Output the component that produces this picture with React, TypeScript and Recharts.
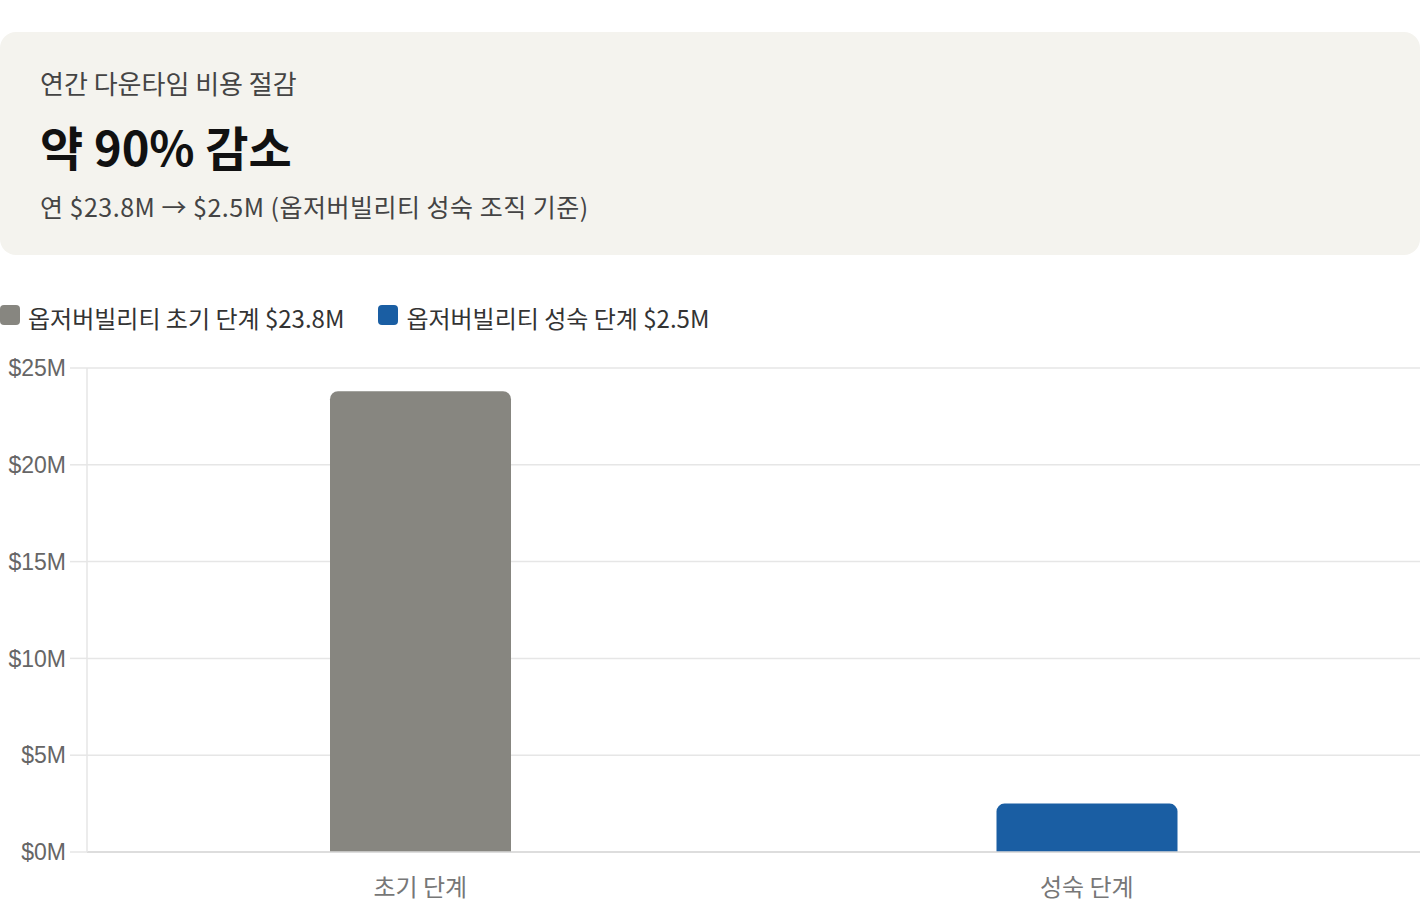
import React from "react";
import {
  BarChart,
  Bar,
  XAxis,
  YAxis,
  CartesianGrid,
  Legend,
  Cell,
} from "recharts";

// chart data
const categories = ["초기 단계", "성숙 단계"];
const costs = [23.8, 2.5];
const legendLabels = ["옵저버빌리티 초기 단계 $23.8M", "옵저버빌리티 성숙 단계 $2.5M"];
const barColors = ["#878680", "#1a5ea3"];
const yTicks = [0, 5, 10, 15, 20, 25];

const chartData = categories.map((name, i) => ({ name, cost: costs[i] }));

const KR_FONT = '"Noto Sans CJK KR", "Noto Sans", sans-serif';

const LegendRow = () => (
  <div style={{ display: "flex", alignItems: "center", height: 34, fontFamily: KR_FONT }}>
    {legendLabels.map((label, i) => (
      <div
        key={label}
        style={{ display: "flex", alignItems: "center", marginRight: i === 0 ? 34 : 0 }}
      >
        <span
          style={{
            display: "inline-block",
            width: 20,
            height: 20,
            borderRadius: 4,
            background: barColors[i],
            marginRight: 8,
            marginTop: -4,
          }}
        />
        <span style={{ fontSize: 24, color: "#333" }}>{label}</span>
      </div>
    ))}
  </div>
);

export default function App() {
  return (
    <div
      style={{
        position: "absolute",
        left: 0,
        top: 0,
        width: 1420,
        height: 908,
        background: "#fff",
        overflow: "hidden",
      }}
    >
      {/* summary card */}
      <div
        style={{
          position: "absolute",
          left: 0,
          top: 32,
          width: 1420,
          height: 223,
          background: "#f4f3ee",
          borderRadius: 16,
          fontFamily: KR_FONT,
        }}
      >
        <div style={{ position: "absolute", left: 40, top: 33, fontSize: 26, color: "#444", lineHeight: "36px" }}>
          연간 다운타임 비용 절감
        </div>
        <div
          style={{
            position: "absolute",
            left: 40,
            top: 83,
            fontSize: 47,
            fontWeight: 700,
            color: "#111",
            lineHeight: "62px",
          }}
        >
          약 90% 감소
        </div>
        <div
          style={{
            position: "absolute",
            left: 40,
            top: 156,
            fontSize: 25,
            letterSpacing: 0.5,
            color: "#444",
            lineHeight: "36px",
          }}
        >
          연 $23.8M → $2.5M (옵저버빌리티 성숙 조직 기준)
        </div>
      </div>

      <div style={{ position: "absolute", left: 0, top: 300 }}>
        <BarChart
          width={1420}
          height={608}
          data={chartData}
          margin={{ top: 34, right: 0, bottom: 0, left: 0 }}
        >
          <Legend
            verticalAlign="top"
            align="left"
            wrapperStyle={{ top: 0, left: 0 }}
            content={() => <LegendRow />}
          />
          <CartesianGrid vertical={false} stroke="#e6e6e6" strokeWidth={1.5} />
          <XAxis
            dataKey="name"
            height={56}
            axisLine={{ stroke: "#d9d9d9", strokeWidth: 1.5 }}
            tickLine={false}
            tickSize={12}
            tickMargin={15}
            tick={{ fontSize: 24, fill: "#777", fontFamily: KR_FONT }}
          />
          <YAxis
            width={87}
            domain={[0, 25]}
            ticks={yTicks}
            tickFormatter={(v: number) => `$${v}M`}
            axisLine={{ stroke: "#e6e6e6", strokeWidth: 1.5 }}
            tickLine={{ stroke: "#e6e6e6", strokeWidth: 1.5 }}
            tickSize={17}
            tickMargin={4}
            tick={{ fontSize: 23, fill: "#666", fontFamily: '"Liberation Sans", Arial, sans-serif' }}
          />
          <Bar dataKey="cost" barSize={181} radius={[8, 8, 0, 0]} isAnimationActive={false}>
            {chartData.map((entry, i) => (
              <Cell key={`cell-${i}`} fill={barColors[i]} />
            ))}
          </Bar>
        </BarChart>
      </div>
    </div>
  );
}
